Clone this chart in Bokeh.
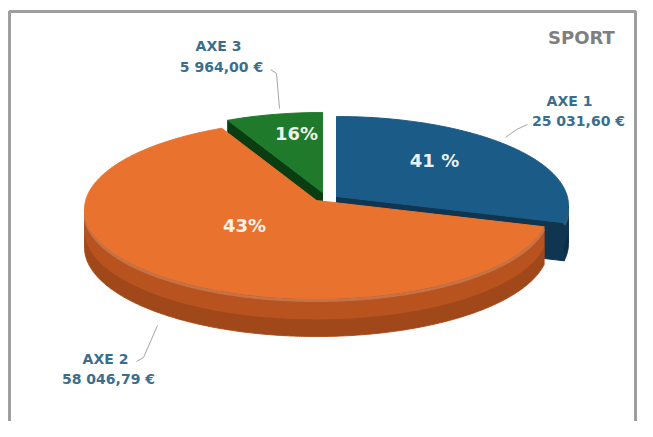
import numpy as np
from bokeh.plotting import figure
from bokeh.models import Range1d
from bokeh.core.properties import value
from bokeh.embed import file_html
from bokeh.resources import INLINE

# ---- data ----
categories = ["AXE 1", "AXE 2", "AXE 3"]
amounts = [25031.60, 58046.79, 5964.00]
amount_labels = ["25 031,60 €", "58 046,79 €", "5 964,00 €"]
pct_labels = ["41 %", "43%", "16%"]
title = "SPORT"

# ---- styles / layout ----
top_colors = ["#1B5B87", "#E9732E", "#1F7A2C"]
side_colors = ["#0F3551", "#B8531F", "#0B3D12"]
explode = [(20, -4), (0, 0), (6, -8)]
pct_pos = [(434, 160), (244, 225), (296, 133)]
cat_pos = [(569, 100), (105, 358), (218, 45)]
amt_pos = [(578, 120), (108, 378), (221, 66)]
leaders = [
    ([527, 516, 505], [124, 129, 137]),
    ([136, 143, 157], [361, 357, 325]),
    ([270, 276, 279], [69, 73, 108]),
]
cx, cy, rx, ry = 316.0, 209.0, 232.0, 89.0
apex_dy = -9.0
depth = 38.0
FONT = value("DejaVu Sans")

p = figure(width=637, height=421, x_range=Range1d(0, 637), y_range=Range1d(421, 0),
           output_backend="svg", toolbar_location=None, min_border=0,
           x_axis_location=None, y_axis_location=None)
p.grid.visible = False
p.outline_line_color = None
p.background_fill_color = "white"
p.border_fill_color = "white"

# frame border
p.line([9, 9, 635, 635], [440, 11, 11, 440], line_color="#9E9E9E", line_width=3)

vals = np.array(amounts, dtype=float)
fr = vals / vals.sum()
cum = np.concatenate([[0], np.cumsum(fr)])
t_start = 90 - cum[:-1] * 360   # CCW-most edge (deg)
t_end = 90 - cum[1:] * 360      # CW-most edge (deg)


def rim(t, dx, dy, z=0.0):
    return cx + dx + rx * np.cos(t), cy + dy - ry * np.sin(t) + z


faces, sides, tops = [], [], []
for i in range(len(vals)):
    dx, dy = explode[i]
    n = max(int(abs(t_start[i] - t_end[i]) * 2), 8)
    ts = np.radians(np.linspace(t_end[i], t_start[i], n))
    ax, ay = cx + dx, cy + dy + apex_dy
    rxp, ryp = rim(ts, dx, dy)
    tops.append((np.concatenate([[ax], rxp]), np.concatenate([[ay], ryp]), i))
    # rim side (front half)
    mask = np.sin(ts) <= 1e-9
    if mask.sum() > 1:
        tt = ts[mask]
        x1, y1 = rim(tt, dx, dy)
        x2, y2 = rim(tt, dx, dy, depth)
        sides.append((np.concatenate([x1, x2[::-1]]), np.concatenate([y1, y2[::-1]]), i, tt))
    # radial faces
    for t_edge, nrm in ((np.radians(t_end[i]), np.radians(t_end[i] - 90)),
                        (np.radians(t_start[i]), np.radians(t_start[i] + 90))):
        if np.sin(nrm) < -1e-6:
            ex, ey = rim(np.array([t_edge]), dx, dy)
            faces.append(([ax, ex[0], ex[0], ax], [ay, ey[0], ey[0] + depth, ay + depth], i))

for fx, fy, i in faces:
    p.patch(fx, fy, fill_color=side_colors[i], line_color=side_colors[i], line_width=1)

for sx, sy, i, tt in sides:
    p.patch(sx, sy, fill_color=side_colors[i], line_color=side_colors[i], line_width=1)
    dx, dy = explode[i]
    # darker lower band
    x1, y1 = rim(tt, dx, dy, depth * 0.55)
    x2, y2 = rim(tt, dx, dy, depth)
    p.patch(np.concatenate([x1, x2[::-1]]), np.concatenate([y1, y2[::-1]]),
            fill_color="#000000", fill_alpha=0.12, line_color=None)
    # rim highlight
    hx, hy = rim(tt, dx, dy, 2)
    p.line(hx, hy, line_color="#FFFFFF", line_alpha=0.18, line_width=3)

order = [1, 0, 2]
for k in order:
    tx, ty, i = tops[k]
    p.patch(tx, ty, fill_color=top_colors[i], line_color=top_colors[i], line_width=1)

# percentage labels
p.text([q[0] for q in pct_pos], [q[1] for q in pct_pos], text=pct_labels,
       text_font=FONT, text_font_style="bold", text_font_size="18px",
       text_color="#FFFFFF", text_align="center", text_baseline="middle", text_alpha=0.92)

# leader lines
for lx, ly in leaders:
    p.line(lx, ly, line_color="#A6A6A6", line_width=1)

# category labels
p.text([q[0] for q in cat_pos], [q[1] for q in cat_pos], text=categories,
       text_font=FONT, text_font_style="bold", text_font_size="14px",
       text_color="#3A6E8E", text_align="center", text_baseline="middle")
p.text([q[0] for q in amt_pos], [q[1] for q in amt_pos], text=amount_labels,
       text_font=FONT, text_font_style="bold", text_font_size="14px",
       text_color="#3A6E8E", text_align="center", text_baseline="middle")

# title
p.text([581], [37], text=[title], text_font=FONT, text_font_style="bold",
       text_font_size="18px", text_color="#7F7F7F", text_align="center",
       text_baseline="middle")

open("out.html", "w").write(file_html(p, INLINE))
